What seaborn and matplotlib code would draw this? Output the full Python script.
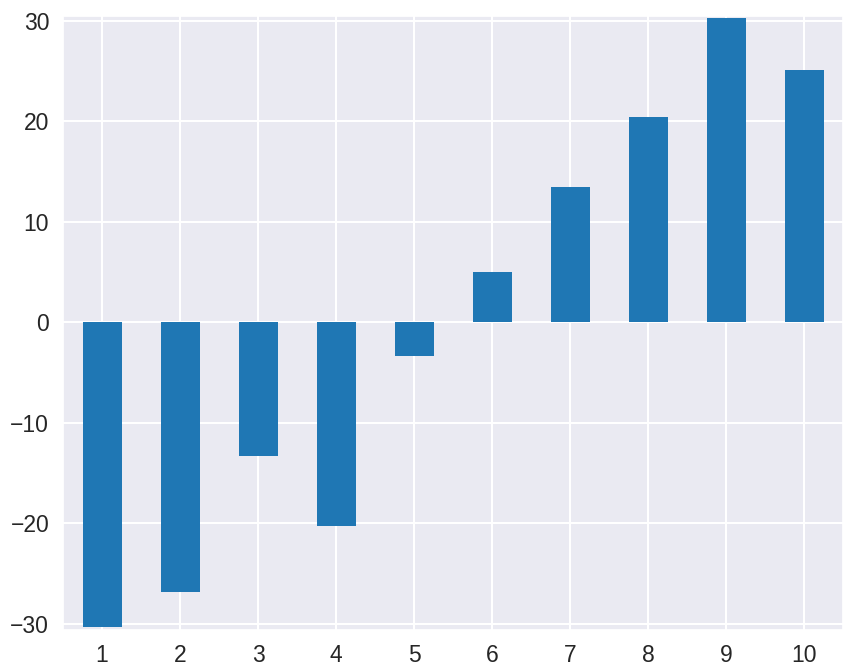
import matplotlib
matplotlib.use("Agg")
import matplotlib.pyplot as plt
import seaborn as sns
import pandas as pd

categories = [1, 2, 3, 4, 5, 6, 7, 8, 9, 10]
values = [-30.3, -26.8, -13.3, -20.3, -3.4, 5.0, 13.4, 20.4, 30.2, 25.1]

sns.set_theme(style="darkgrid")
plt.rcParams['font.family'] = ['Liberation Sans', 'DejaVu Sans']

df = pd.DataFrame({"cat": [str(c) for c in categories], "val": values})

fig = plt.figure(figsize=(8.46, 6.66), dpi=100)
ax = fig.add_axes([0.0745, 0.054, 0.922, 0.922])
sns.barplot(data=df, x="cat", y="val", color="#1f77b4", saturation=1,
            width=0.5, ax=ax, errorbar=None, linewidth=0)
ax.set_xlim(-0.5, 9.5)
ax.set_ylim(-30.6, 30.45)
ax.set_yticks([-30, -20, -10, 0, 10, 20, 30])
ax.set_xlabel("")
ax.set_ylabel("")
ax.tick_params(axis="both", labelsize=16.5, colors="#262626", pad=4)
ax.grid(True, color="white", linewidth=1.5)
ax.set_axisbelow(True)
fig.savefig("out.png", dpi=100)
